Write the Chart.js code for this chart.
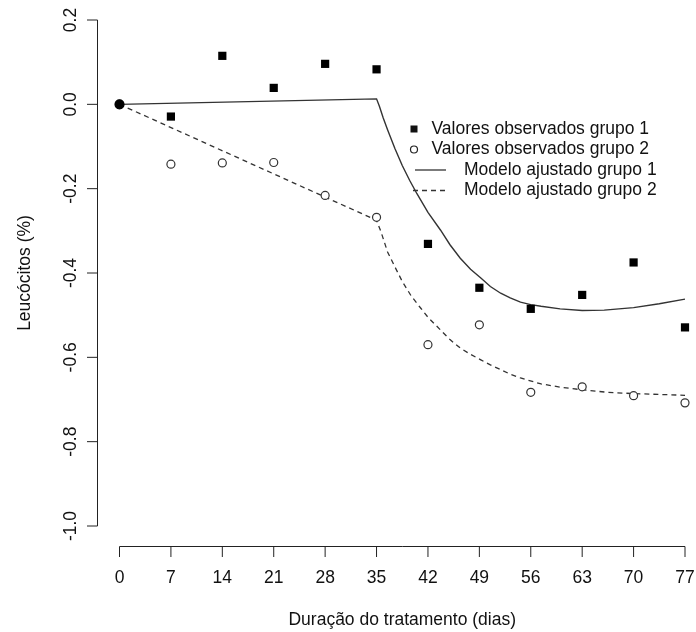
<!DOCTYPE html>
<html>
<head>
<meta charset="utf-8">
<script src="https://cdn.jsdelivr.net/npm/chart.js@4.4.1/dist/chart.umd.min.js"></script>
<style>
  html, body { margin: 0; padding: 0; background: #fff; }
  #wrap { width: 696px; height: 632px; }
</style>
</head>
<body>
<div id="wrap"><canvas id="myChart" width="696" height="632"></canvas></div>
<script>
// observed values (days of treatment)
const days = [0, 7, 14, 21, 28, 35, 42, 49, 56, 63, 70, 77];
const grupo1 = [0, -0.029, 0.115, 0.039, 0.096, 0.083, -0.331, -0.435, -0.485, -0.452, -0.375, -0.529];
const grupo2 = [0, -0.142, -0.139, -0.138, -0.216, -0.268, -0.570, -0.523, -0.683, -0.670, -0.691, -0.708];

// fitted curves
const modeloDias1 = [0, 35, 35.4, 35.9, 36.5, 37.5, 38.5, 39.5, 40.5, 42, 43.7, 45, 46.4, 47.8, 49.2, 50.5, 51.9, 53.2, 54.6, 56, 57.4, 60, 63, 66, 70, 73.5, 77];
const modelo1 = [0, 0.013, -0.005, -0.032, -0.06, -0.105, -0.145, -0.18, -0.212, -0.256, -0.298, -0.333, -0.365, -0.391, -0.412, -0.432, -0.448, -0.459, -0.469, -0.475, -0.479, -0.485, -0.489, -0.488, -0.482, -0.473, -0.462];
const modeloDias2 = [0, 35, 35.6, 36.5, 37.4, 38.5, 39.7, 41, 42, 43.7, 45, 46.4, 47.8, 49.2, 50.5, 51.9, 53.2, 54.6, 57.4, 60.1, 63, 66.5, 70, 77];
const modelo2 = [0, -0.275, -0.302, -0.35, -0.382, -0.42, -0.454, -0.483, -0.505, -0.535, -0.558, -0.578, -0.593, -0.606, -0.618, -0.629, -0.64, -0.649, -0.663, -0.671, -0.677, -0.683, -0.686, -0.690];

const xTicks = [0, 7, 14, 21, 28, 35, 42, 49, 56, 63, 70, 77];
const yTicks = [0.2, 0.0, -0.2, -0.4, -0.6, -0.8, -1.0];
const xTitle = "Duração do tratamento (dias)";
const yTitle = "Leucócitos (%)";

const FONT = '17.5px "Liberation Sans", Arial, sans-serif';
const toXY = (xs, ys) => xs.map((d, i) => ({ x: d, y: ys[i] }));

// R style axes: detached lines with outward ticks
const rAxes = {
  id: "rAxes",
  afterDraw(chart) {
    const { ctx, chartArea, scales: { x, y } } = chart;
    ctx.save();
    ctx.strokeStyle = "#222";
    ctx.lineWidth = 1;
    ctx.fillStyle = "#111";
    ctx.font = FONT;
    ctx.textAlign = "center";
    ctx.textBaseline = "middle";

    const ay = Math.round(chartArea.bottom + 20) + 0.5;
    ctx.beginPath();
    ctx.moveTo(x.getPixelForValue(xTicks[0]), ay);
    ctx.lineTo(x.getPixelForValue(xTicks[xTicks.length - 1]), ay);
    xTicks.forEach((t) => {
      const px = x.getPixelForValue(t);
      ctx.moveTo(px, ay);
      ctx.lineTo(px, ay + 10.5);
    });
    ctx.stroke();
    xTicks.forEach((t) => ctx.fillText(String(t), x.getPixelForValue(t), ay + 32));
    ctx.fillText(xTitle, (chartArea.left + chartArea.right) / 2, ay + 74);

    const ax = Math.round(chartArea.left - 23) + 0.5;
    ctx.beginPath();
    ctx.moveTo(ax, y.getPixelForValue(yTicks[0]));
    ctx.lineTo(ax, y.getPixelForValue(yTicks[yTicks.length - 1]));
    yTicks.forEach((t) => {
      const py = y.getPixelForValue(t);
      ctx.moveTo(ax, py);
      ctx.lineTo(ax - 10.5, py);
    });
    ctx.stroke();
    yTicks.forEach((t) => {
      ctx.save();
      ctx.translate(ax - 26, y.getPixelForValue(t));
      ctx.rotate(-Math.PI / 2);
      ctx.fillText(t.toFixed(1), 0, 0);
      ctx.restore();
    });
    ctx.save();
    ctx.translate(25, (y.getPixelForValue(yTicks[0]) + y.getPixelForValue(yTicks[yTicks.length - 1])) / 2);
    ctx.rotate(-Math.PI / 2);
    ctx.fillText(yTitle, 0, 0);
    ctx.restore();
    ctx.restore();
  },
};

// legend without box, like R's bty = "n"
const rLegend = {
  id: "rLegend",
  afterDraw(chart) {
    const { ctx } = chart;
    const ds = chart.data.datasets;
    const rows = [129, 149.5, 170, 190.5];
    ctx.save();
    ctx.font = FONT;
    ctx.textAlign = "left";
    ctx.textBaseline = "middle";
    ctx.fillStyle = "#111";
    // square
    ctx.fillRect(410.5, rows[0] - 3.5, 7, 7);
    ctx.fillText(ds[0].label, 431.5, rows[0]);
    // circle
    ctx.beginPath();
    ctx.arc(414, rows[1], 3.5, 0, Math.PI * 2);
    ctx.strokeStyle = "#222";
    ctx.lineWidth = 1.2;
    ctx.stroke();
    ctx.fillText(ds[1].label, 431.5, rows[1]);
    // lines
    ctx.lineWidth = 1.3;
    ctx.strokeStyle = "#333";
    ctx.beginPath();
    ctx.moveTo(415, rows[2]);
    ctx.lineTo(446, rows[2]);
    ctx.stroke();
    ctx.fillText(ds[2].label, 464, rows[2]);
    ctx.setLineDash([5, 4]);
    ctx.beginPath();
    ctx.moveTo(413, rows[3]);
    ctx.lineTo(446, rows[3]);
    ctx.stroke();
    ctx.setLineDash([]);
    ctx.fillText(ds[3].label, 464, rows[3]);
    ctx.restore();
  },
};

const ctx = document.getElementById("myChart");

const myChart = new Chart(ctx, {
  type: "scatter",
  data: {
    datasets: [
      {
        label: "Valores observados grupo 1",
        data: toXY(days, grupo1),
        showLine: false,
        pointStyle: (c) => (c.dataIndex === 0 ? "circle" : "rect"),
        pointRadius: (c) => (c.dataIndex === 0 ? 4.5 : 5.8),
        backgroundColor: "#000",
        borderColor: "#000",
        borderWidth: 0,
        clip: false,
      },
      {
        label: "Valores observados grupo 2",
        data: toXY(days, grupo2),
        showLine: false,
        pointStyle: "circle",
        pointRadius: (c) => (c.dataIndex === 0 ? 4.5 : 4),
        backgroundColor: (c) => (c.dataIndex === 0 ? "#000" : "#fff"),
        borderColor: (c) => (c.dataIndex === 0 ? "#000" : "#333"),
        borderWidth: 1.2,
        clip: false,
      },
      {
        label: "Modelo ajustado grupo 1",
        data: toXY(modeloDias1, modelo1),
        showLine: true,
        pointRadius: 0,
        borderColor: "#333",
        borderWidth: 1.4,
        tension: 0,
        clip: false,
      },
      {
        label: "Modelo ajustado grupo 2",
        data: toXY(modeloDias2, modelo2),
        showLine: true,
        pointRadius: 0,
        borderColor: "#333",
        borderWidth: 1.3,
        borderDash: [5, 4],
        tension: 0,
        clip: false,
      },
    ],
  },
  options: {
    responsive: false,
    animation: false,
    layout: {
      padding: { left: 119.5, right: 11, top: 20, bottom: 106 },
    },
    scales: {
      x: { type: "linear", min: 0, max: 77, display: false },
      y: { type: "linear", min: -1.0, max: 0.2, display: false },
    },
    plugins: {
      legend: { display: false },
      tooltip: { enabled: false },
    },
  },
  plugins: [rAxes, rLegend],
});
</script>
</body>
</html>
